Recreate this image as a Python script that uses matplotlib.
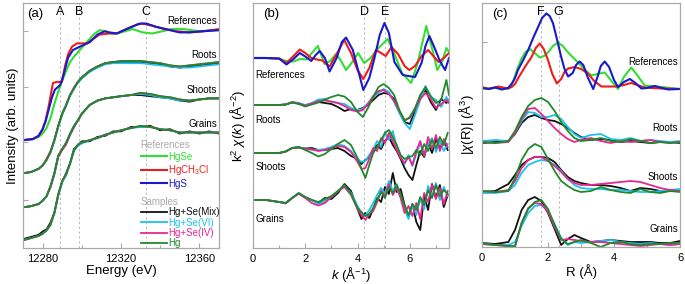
import matplotlib
matplotlib.use("Agg")
import matplotlib.pyplot as plt
from matplotlib.lines import Line2D

plt.rcParams['font.family'] = ['Liberation Sans', 'DejaVu Sans']
plt.rcParams['mathtext.fontset'] = 'custom'
plt.rcParams['mathtext.rm'] = 'Liberation Sans'
plt.rcParams['mathtext.it'] = 'Liberation Sans:italic'

# ---------------- colours ----------------
C_HGSE = '#33dd33'
C_HGCH = '#ee1c1c'
C_HGS = '#1a1acc'
C_MIX = '#111111'
C_VI = '#19c3f0'
C_IV = '#e8268e'
C_HG = '#1f8a2a'

# ---------------- panel (a): XANES ----------------
E_hgs = [12270, 12275, 12278, 12280, 12281.5, 12283, 12284.8, 12286.3, 12288.9, 12290.4, 12293, 12295.5,
         12299, 12304, 12308, 12311.7, 12314, 12317.8, 12322.8, 12329.5, 12333, 12338, 12343, 12349.8,
         12354.9, 12361.5, 12370]
mu_hgs = [0.0, 0.01, 0.04, 0.1, 0.17, 0.27, 0.39, 0.46, 0.5, 0.575, 0.75, 0.82, 0.85, 0.89, 0.96, 0.99,
          0.98, 0.97, 1.01, 1.06, 1.06, 1.03, 1.01, 0.98, 0.98, 0.99, 1.0]
E_hgch = [12270, 12275, 12278, 12280, 12281.5, 12283, 12285.3, 12287.4, 12289.9, 12291.4, 12293, 12295,
          12297.5, 12302.6, 12305, 12309, 12314, 12317.8, 12322.8, 12328, 12331, 12336, 12342, 12348,
          12355, 12362, 12370]
mu_hgch = [0.0, 0.01, 0.04, 0.1, 0.18, 0.3, 0.52, 0.53, 0.53, 0.67, 0.78, 0.85, 0.88, 0.88, 0.91, 0.96,
           0.97, 0.97, 1.01, 1.05, 1.06, 1.04, 1.01, 0.99, 0.98, 0.99, 1.01]
E_hgse = [12270, 12275, 12278, 12280, 12282, 12284, 12286, 12288, 12290, 12292, 12294, 12296, 12298,
          12300, 12303, 12306, 12309, 12312, 12315, 12318, 12322, 12326, 12331, 12336, 12341, 12346,
          12352, 12360, 12370]
mu_hgse = [0.0, 0.01, 0.03, 0.06, 0.11, 0.2, 0.33, 0.44, 0.54, 0.63, 0.71, 0.76, 0.8, 0.84, 0.9, 0.96,
           1.0, 0.99, 0.97, 0.97, 0.99, 1.01, 0.98, 0.97, 0.99, 1.01, 1.01, 0.99, 1.0]

E_s = [12270, 12274, 12278, 12280, 12282, 12284, 12286, 12288, 12290, 12292, 12294, 12296, 12298, 12300,
       12304, 12308, 12312, 12316, 12320, 12325, 12330, 12335, 12340, 12345, 12350, 12355, 12360, 12365, 12370]
roots_a_mix = [0.0, 0.01, 0.04, 0.07, 0.12, 0.19, 0.3, 0.43, 0.54, 0.62, 0.71, 0.77, 0.83, 0.87, 0.93, 0.97,
               1.0, 1.01, 1.01, 1.01, 1.01, 1.0, 0.99, 0.97, 0.96, 0.97, 0.98, 0.99, 1.0]
roots_a_vi = [0.0, 0.01, 0.04, 0.07, 0.12, 0.19, 0.29, 0.42, 0.53, 0.61, 0.7, 0.77, 0.82, 0.86, 0.92, 0.96,
              0.99, 1.0, 1.0, 1.0, 1.0, 0.99, 0.98, 0.97, 0.96, 0.96, 0.97, 0.98, 0.99]
roots_a_iv = [0.0, 0.01, 0.04, 0.07, 0.13, 0.2, 0.3, 0.43, 0.54, 0.62, 0.71, 0.78, 0.83, 0.87, 0.93, 0.97,
              1.0, 1.01, 1.02, 1.02, 1.02, 1.01, 1.0, 0.98, 0.97, 0.98, 0.99, 1.0, 1.01]
roots_a_hg = [0.0, 0.01, 0.04, 0.07, 0.12, 0.19, 0.3, 0.43, 0.54, 0.62, 0.71, 0.77, 0.83, 0.87, 0.93, 0.97,
              1.0, 1.01, 1.02, 1.02, 1.02, 1.01, 1.0, 0.98, 0.97, 0.98, 0.99, 1.0, 1.01]
shoots_a_mix = [0.0, 0.01, 0.03, 0.06, 0.1, 0.19, 0.31, 0.47, 0.53, 0.58, 0.66, 0.73, 0.79, 0.85, 0.93, 0.97,
                0.99, 1.0, 1.01, 1.02, 1.02, 1.01, 1.0, 0.99, 0.97, 0.96, 0.98, 0.99, 0.99]
shoots_a_vi = [0.0, 0.01, 0.03, 0.06, 0.1, 0.18, 0.3, 0.46, 0.53, 0.58, 0.67, 0.74, 0.79, 0.85, 0.93, 0.97,
               0.99, 1.0, 1.01, 1.02, 1.03, 1.02, 1.0, 0.99, 0.97, 0.97, 0.98, 0.99, 0.99]
shoots_a_iv = [0.0, 0.01, 0.03, 0.06, 0.1, 0.18, 0.3, 0.46, 0.52, 0.57, 0.66, 0.73, 0.79, 0.85, 0.93, 0.97,
               0.99, 1.0, 1.01, 1.02, 1.04, 1.03, 1.01, 1.0, 0.98, 0.97, 0.98, 0.99, 0.99]
shoots_a_hg = [0.0, 0.01, 0.03, 0.06, 0.1, 0.19, 0.31, 0.47, 0.53, 0.59, 0.67, 0.74, 0.79, 0.85, 0.93, 0.97,
               0.99, 1.0, 1.01, 1.02, 1.04, 1.03, 1.01, 1.0, 0.98, 0.97, 0.98, 0.99, 0.99]
grains_a_mix = [0.01, 0.03, 0.05, 0.08, 0.1, 0.16, 0.25, 0.41, 0.53, 0.61, 0.7, 0.83, 0.86, 0.9, 0.9, 0.94,
                0.95, 0.99, 0.99, 1.03, 1.03, 1.04, 1.0, 1.01, 0.97, 0.99, 0.97, 0.99, 0.97]
grains_a_vi = [0.0, 0.02, 0.04, 0.06, 0.09, 0.14, 0.24, 0.41, 0.53, 0.59, 0.69, 0.81, 0.86, 0.88, 0.91, 0.93,
               0.96, 0.98, 1.0, 1.02, 1.03, 1.03, 1.01, 1.0, 0.98, 0.98, 0.98, 0.98, 0.98]
grains_a_iv = [0.0, 0.02, 0.04, 0.06, 0.09, 0.14, 0.25, 0.42, 0.54, 0.6, 0.7, 0.82, 0.87, 0.89, 0.91, 0.93,
               0.96, 0.98, 1.0, 1.02, 1.04, 1.03, 1.01, 1.0, 0.98, 0.98, 0.98, 0.98, 0.98]
grains_a_hg = [0.0, 0.02, 0.04, 0.06, 0.09, 0.14, 0.25, 0.42, 0.54, 0.6, 0.7, 0.82, 0.87, 0.89, 0.91, 0.93,
               0.96, 0.98, 1.0, 1.02, 1.04, 1.03, 1.01, 1.0, 0.98, 0.98, 0.98, 0.98, 0.98]

# ---------------- panel (b): k^2 chi(k) ----------------
k_hgs = [0, 0.5, 1.0, 1.28, 1.55, 1.79, 2.0, 2.23, 2.4, 2.55, 2.75, 2.93, 3.2, 3.4, 3.56, 3.82, 4.0, 4.22,
         4.45, 4.64, 4.85, 5.03, 5.2, 5.41, 5.73, 5.95, 6.2, 6.45, 6.6, 6.75, 6.95, 7.15, 7.35, 7.5]
chi_hgs = [0, 0, -0.05, -0.65, -0.1, 0.5, 0.15, -0.3, 0.3, 0.7, 0.0, -1.35, 0.0, 1.6, 2.05, 0.8, -1.0, -3.2,
           -2.0, -0.1, 2.3, 3.5, 2.5, -0.4, -1.7, -1.8, -1.9, -0.5, 1.2, 2.2, 1.0, -0.3, -1.2, 0.0]
k_hgch = [0, 0.5, 1.0, 1.28, 1.55, 1.79, 2.0, 2.23, 2.45, 2.65, 2.93, 3.2, 3.49, 3.75, 4.0, 4.22, 4.45, 4.7,
          4.9, 5.08, 5.3, 5.55, 5.8, 5.98, 6.2, 6.45, 6.7, 6.9, 7.1, 7.3, 7.5]
chi_hgch = [0, 0, -0.05, -0.5, 0.2, 0.85, 0.5, 0.0, -0.15, -0.25, -0.85, 0.4, 1.8, 0.5, -1.2, -2.1, -1.0,
            0.8, 0.5, 0.2, 1.1, 0.4, -0.8, -1.2, -0.8, 0.2, 0.8, 0.2, -0.4, 0.0, 0.5]
k_hgse = [0, 0.5, 1.0, 1.3, 1.55, 1.8, 2.05, 2.25, 2.48, 2.74, 2.95, 3.18, 3.35, 3.56, 3.8, 4.02, 4.26, 4.5,
          4.8, 5.15, 5.4, 5.7, 6.05, 6.3, 6.63, 6.85, 7.05, 7.25, 7.4, 7.5]
chi_hgse = [0, 0, -0.1, -0.3, -0.35, -0.1, -0.15, 0.5, 1.2, -0.6, -0.3, 0.4, -0.2, -1.2, -0.4, 0.5, -0.5,
            0.0, 1.0, 1.9, 0.5, -1.5, -2.5, -0.5, 3.2, 1.0, -1.2, -0.3, 1.0, 0.6]

k_r = [0, 0.5, 1.0, 1.25, 1.5, 1.75, 2.0, 2.25, 2.5, 2.75, 3.0, 3.25, 3.5, 3.75, 4.0, 4.2, 4.4, 4.6, 4.8,
       5.0, 5.2, 5.4, 5.6, 5.8, 6.0, 6.2, 6.4, 6.6, 6.8, 7.0, 7.2, 7.4, 7.5]
roots_b_mix = [0, 0, 0, 0.05, 0.25, 0.15, -0.05, 0.15, 0.3, 0.2, 0.1, -0.2, -0.6, -0.4, -0.5, -0.3, 0.0,
               0.5, 1.0, 1.2, 1.1, 0.6, -0.7, -1.7, -1.9, -0.6, 0.9, 1.5, 0.3, -0.5, 0.6, 0.2, 0.5]
roots_b_vi = [0, 0, 0, 0.05, 0.3, 0.2, 0.0, 0.2, 0.55, 0.6, 0.3, 0.2, 0.1, -0.3, -0.5, -0.4, 0.2, 0.8, 1.2,
              1.6, 1.3, 0.3, -0.8, -1.8, -2.4, -1.0, 0.5, 1.9, 0.8, 0.5, -0.2, 0.8, 0.3]
roots_b_iv = [0, 0, 0, 0.05, 0.3, 0.15, -0.05, 0.15, 0.4, 0.45, 0.35, 0.2, -0.1, -0.5, -0.65, -0.5, 0.1,
              0.9, 1.4, 1.5, 1.1, 0.4, -0.6, -1.5, -1.3, -0.4, 0.6, 1.2, 0.6, -0.3, 0.1, 0.5, 0.2]
roots_b_hg = [0, 0, 0, 0.05, 0.25, 0.1, -0.15, 0.05, 0.25, 0.55, 0.8, 1.0, 0.85, 0.3, -0.7, -1.2, -0.3, 0.8,
              1.8, 2.1, 1.7, 1.0, -0.5, -1.6, -1.2, -0.3, 1.0, 1.8, 0.9, 0.2, 0.5, 2.5, 1.0]

k_n = [0, 0.5, 1.0, 1.25, 1.5, 1.75, 2.0, 2.25, 2.5, 2.75, 3.0, 3.25, 3.5, 3.75, 4.0, 4.15, 4.3, 4.45, 4.6,
       4.75, 4.9, 5.05, 5.2, 5.35, 5.5, 5.65, 5.8, 5.95, 6.1, 6.25, 6.4, 6.55, 6.7, 6.85, 7.0, 7.15, 7.3, 7.45]
shoots_b_mix = [0, 0, 0, 0.15, 0.5, 0.55, 0.45, 0.5, 0.3, 0.3, 0.4, 0.5, 0.2, -0.3, -0.6, -1.1, -0.7, -0.4,
                0.3, 0.8, 0.4, 1.2, 1.6, 0.8, 0.2, -0.6, -1.5, -2.2, -2.7, -1.2, 0.2, -0.4, 1.0, 0.0, 1.4,
                0.5, 1.2, 0.3]
shoots_b_vi = [0, 0, 0, 0.15, 0.5, 0.6, 0.4, 0.35, 0.3, 0.4, 0.6, 0.9, 0.7, 0.2, -0.6, -0.9, -0.8, -0.2,
               0.4, 1.2, 0.6, 2.1, 1.3, 2.2, 0.6, -0.3, -1.1, -0.2, -1.3, -0.1, 1.0, -0.2, 0.9, 1.5, 0.1,
               1.2, 0.2, 0.9]
shoots_b_iv = [0, 0, 0, 0.15, 0.5, 0.55, 0.4, 0.35, 0.2, 0.3, 0.5, 0.7, 0.6, 0.1, -0.9, -1.6, -1.5, -0.6,
               0.5, 0.2, 1.5, 1.0, 2.0, 1.2, 0.3, -0.5, -1.0, -0.4, -1.2, 0.2, 1.2, -0.3, 1.6, 0.4, 1.8, 0.2,
               1.4, 0.6]
shoots_b_hg = [0, 0, 0, 0.15, 0.5, 0.6, 0.3, 0.0, -0.35, -0.1, 0.4, 0.9, 1.3, 0.8, -0.5, -1.6, -2.5, -1.2,
               0.0, 0.6, 1.3, 2.0, 2.3, 1.6, 0.8, -0.2, -0.6, -0.4, -0.3, 0.3, -0.2, 0.9, 0.2, 1.3, 0.5, 1.6,
               0.8, 2.0]
grains_b_mix = [0, 0, -0.2, -0.3, 0.2, 0.65, 0.25, 0.0, -0.3, 0.2, 0.1, 0.7, 1.6, 0.9, -0.9, -1.9, -1.3,
                -1.8, -0.9, 0.2, -0.2, 1.3, 0.6, 2.7, 0.8, 1.1, -0.5, -1.7, -0.4, -2.2, -3.0, 0.4, -1.0, 1.6,
                0.2, 1.5, -0.7, 0.5]
grains_b_vi = [0, 0, -0.2, -0.3, 0.2, 0.7, 0.3, 0.0, -0.4, -0.1, 0.3, 0.9, 1.4, 0.7, -0.6, -1.3, -1.6,
               -1.0, -0.3, 0.5, 1.2, 0.6, 1.9, 0.9, 1.6, 0.3, -0.9, -1.9, -0.5, -1.5, 0.1, -0.9, 1.4, 0.3,
               1.7, 0.0, 1.3, 0.4]
grains_b_iv = [0, 0, -0.2, -0.35, 0.2, 0.65, 0.2, -0.3, -0.55, -0.3, 0.3, 0.9, 1.3, 0.5, -0.9, -1.5, -2.0,
               -1.4, -1.1, -0.2, 0.9, 0.4, 1.6, 0.5, 1.2, 0.2, -1.3, -0.6, -1.6, -0.3, -1.9, 0.7, -0.2, 1.5,
               0.1, 1.2, -0.4, 0.9]
grains_b_hg = [0, 0, -0.2, -0.3, 0.2, 0.7, 0.3, 0.0, -0.2, 0.1, 0.4, 0.9, 1.5, 0.6, -0.8, -1.2, -1.6, -1.4,
               -0.8, 0.0, 0.8, 0.2, 1.3, 0.7, 1.5, 0.6, -0.6, -1.5, -0.4, -1.0, 0.3, -0.5, 1.0, 0.2, 1.5,
               0.4, 1.0, 0.6]

# ---------------- panel (c): |chi(R)| ----------------
R_hgs = [0, 0.2, 0.4, 0.6, 0.79, 0.9, 1.0, 1.09, 1.25, 1.4, 1.55, 1.7, 1.82, 1.95, 2.05, 2.15, 2.27, 2.4,
         2.5, 2.61, 2.75, 2.85, 2.96, 3.07, 3.2, 3.37, 3.5, 3.6, 3.72, 3.85, 4.0, 4.12, 4.3, 4.48, 4.65,
         4.83, 5.0, 5.23, 5.4, 5.64, 6.0]
ft_hgs = [0.1, 0.0, 0.15, -0.05, 0.1, 0.5, 1.1, 1.9, 2.9, 3.9, 5.1, 6.2, 7.1, 7.55, 7.3, 6.6, 5.0, 3.2, 2.0,
          1.25, 1.6, 2.4, 2.75, 2.4, 1.2, 0.0, 1.2, 2.3, 2.75, 2.2, 0.9, 0.2, 0.7, 1.0, 0.6, 0.05, 0.1, 0.3,
          0.15, -0.05, 0.0]
R_hgch = [0, 0.2, 0.49, 0.79, 0.9, 1.0, 1.09, 1.3, 1.5, 1.63, 1.75, 1.87, 2.0, 2.13, 2.27, 2.4, 2.5, 2.61,
          2.81, 3.0, 3.21, 3.4, 3.62, 4.12, 4.35, 4.52, 4.7, 4.93, 5.43, 6.0]
ft_hgch = [0.2, 0.0, 0.25, 0.05, 0.2, 0.5, 1.05, 2.2, 3.2, 4.1, 4.55, 4.0, 2.9, 1.5, 0.55, 1.0, 1.7, 2.05,
           2.2, 2.0, 1.55, 0.8, 0.25, 0.25, 0.45, 0.6, 0.4, 0.15, 0.05, 0.0]
R_hgse = [0, 0.4, 0.8, 0.95, 1.07, 1.19, 1.32, 1.45, 1.6, 1.75, 1.88, 2.0, 2.15, 2.3, 2.45, 2.61, 2.91, 3.1,
          3.31, 3.5, 3.72, 3.9, 4.12, 4.3, 4.52, 4.7, 4.93, 5.43, 6.0]
ft_hgse = [0.05, 0.1, 0.05, 0.8, 2.0, 3.0, 3.7, 4.0, 3.6, 3.15, 3.3, 3.65, 4.3, 4.65, 4.3, 3.65, 2.65, 2.0,
           1.35, 1.5, 1.65, 0.9, 0.0, 1.2, 2.15, 1.4, 0.35, 0.2, 0.0]

R_s = [0, 0.4, 0.8, 1.0, 1.2, 1.4, 1.6, 1.8, 2.0, 2.2, 2.4, 2.6, 2.8, 3.0, 3.3, 3.6, 3.9, 4.2, 4.5, 4.8,
       5.1, 5.4, 5.7, 6.0]
roots_c_mix = [0.0, 0.1, 0.2, 0.9, 2.0, 2.6, 2.8, 2.5, 2.3, 2.2, 1.9, 1.5, 1.0, 0.6, 0.3, 0.4, 0.3, 0.1,
               0.2, 0.1, 0.0, 0.1, 0.1, 0.0]
roots_c_vi = [0.2, 0.3, 0.2, 1.0, 2.2, 3.1, 3.0, 2.6, 2.6, 2.8, 2.4, 1.6, 0.9, 0.5, 0.8, 0.9, 0.4, 0.3,
              0.5, 0.2, 0.3, 0.2, 0.1, 0.2]
roots_c_iv = [0.1, 0.0, 0.1, 1.0, 2.4, 3.4, 3.5, 2.9, 2.2, 1.5, 0.9, 0.4, 0.1, 0.3, 0.5, 0.2, 0.0, 0.2,
              0.1, 0.2, 0.3, 0.1, 0.0, 0.1]
roots_c_hg = [0.1, 0.0, 0.2, 1.2, 2.6, 3.7, 4.3, 4.5, 4.1, 3.2, 2.1, 1.2, 0.5, 0.2, 0.3, 0.5, 0.2, 0.1,
              0.4, 0.2, 0.0, 0.1, 0.0, 0.1]
shoots_c_mix = [0.1, 0.2, 0.9, 1.8, 2.8, 3.3, 3.6, 3.6, 3.5, 3.1, 2.3, 1.6, 1.2, 1.0, 0.8, 0.8, 0.7, 0.5,
                0.2, 0.5, 0.4, 0.2, 0.2, 0.2]
shoots_c_vi = [0.0, 0.0, 0.2, 0.8, 2.0, 2.8, 3.1, 3.3, 3.2, 2.8, 2.2, 1.4, 0.8, 0.5, 0.4, 0.4, 0.3, 0.3,
               0.2, 0.1, 0.1, 0.2, 0.3, 0.4]
shoots_c_iv = [0.2, 0.1, 0.3, 1.2, 2.5, 3.3, 3.6, 3.6, 3.2, 2.7, 2.1, 1.4, 1.0, 0.8, 0.8, 0.9, 1.0, 1.1,
               1.2, 1.1, 0.8, 0.5, 0.3, 0.2]
shoots_c_hg = [0.2, 0.1, 0.2, 1.5, 3.3, 4.4, 4.9, 4.6, 3.4, 2.2, 1.2, 0.7, 0.3, 0.1, 0.2, 0.6, 0.3, 0.1,
               0.0, 0.4, 0.1, 0.0, 0.2, 0.1]
grains_c_mix = [0.2, 0.1, 0.3, 1.5, 3.5, 4.5, 4.8, 4.4, 3.2, 1.6, 0.0, 0.6, 1.0, 0.7, 0.3, 0.4, 0.5, 0.4,
                0.3, 0.3, 0.3, 0.2, 0.2, 0.4]
grains_c_vi = [0.1, 0.0, 0.0, 0.3, 1.9, 3.2, 3.9, 4.0, 3.4, 2.1, 0.7, 0.0, 0.3, 0.2, 0.3, 0.4, 0.5, 0.3,
               0.2, 0.1, 0.2, 0.1, 0.0, 0.1]
grains_c_iv = [0.1, 0.0, -0.1, -0.2, 2.2, 3.7, 4.2, 4.1, 3.3, 1.8, 0.5, 0.6, 0.5, 0.4, 0.3, 0.3, 0.2, 0.1,
               0.0, -0.1, 0.0, 0.1, 0.0, 0.1]
grains_c_hg = [0.2, 0.0, -0.1, -0.1, 2.2, 3.6, 4.3, 4.5, 3.6, 2.0, 0.6, 0.1, 0.3, 0.5, 0.2, -0.2, 0.2, 0.3,
               0.1, 0.0, 0.1, 0.1, 0.2, 0.2]

# ---------------- figure ----------------
fig = plt.figure(figsize=(6.85, 2.84), dpi=100)
W, H = 685.0, 284.0
axA = fig.add_axes([23 / W, 1 - 248 / H, 196 / W, 245 / H])
axB = fig.add_axes([253 / W, 1 - 248 / H, 196 / W, 245 / H])
axC = fig.add_axes([482 / W, 1 - 247 / H, 198 / W, 244 / H])

SPINE = '#aaaaaa'
for ax in (axA, axB, axC):
    for s in ax.spines.values():
        s.set_color(SPINE)
        s.set_linewidth(0.9)
    ax.tick_params(which='both', direction='in', color=SPINE, labelsize=8, pad=4)
    ax.tick_params(which='major', length=3.5, width=0.8)
    ax.tick_params(which='minor', length=2.5, width=0.8)
    ax.tick_params(axis='y', labelleft=False)

LW_R = 1.5
LW_S = 1.3
DASH = dict(color='#bbbbbb', lw=0.7, ls=(0, (2.5, 2.5)), zorder=0)

# ---- (a)
off_a = {'ref': 0.98, 'roots': 0.68, 'shoots': 0.37, 'grains': 0.07}
for x in (12288.8, 12298.5, 12332.5):
    axA.axvline(x, **DASH)
axA.plot(E_hgse, [v + off_a['ref'] for v in mu_hgse], color=C_HGSE, lw=LW_R)
axA.plot(E_hgch, [v + off_a['ref'] for v in mu_hgch], color=C_HGCH, lw=LW_R)
axA.plot(E_hgs, [v + off_a['ref'] for v in mu_hgs], color=C_HGS, lw=LW_R)
for key, series in (('roots', (roots_a_mix, roots_a_vi, roots_a_iv, roots_a_hg)),
                    ('shoots', (shoots_a_mix, shoots_a_vi, shoots_a_iv, shoots_a_hg)),
                    ('grains', (grains_a_mix, grains_a_vi, grains_a_iv, grains_a_hg))):
    for ser, col in zip(series, (C_MIX, C_VI, C_IV, C_HG)):
        axA.plot(E_s, [v + off_a[key] for v in ser], color=col, lw=LW_S)
axA.set_xlim(12270, 12370)
axA.set_ylim(0, 2.227)
axA.set_xticks([12280, 12320, 12360])
axA.set_xticks([12300, 12340], minor=True)
axA.set_yticks([0.436, 0.964, 1.464, 1.973])
axA.set_xlabel('Energy (eV)', fontsize=9.5, labelpad=1)
axA.set_ylabel('Intensity (arb. units)', fontsize=9.5, labelpad=3)
axA.text(0.02, 0.955, '(a)', transform=axA.transAxes, fontsize=9.5, va='center')
for lab, x in (('A', 12288.8), ('B', 12298.5), ('C', 12332.5)):
    axA.text(x, 0.965, lab, transform=axA.get_xaxis_transform(), fontsize=9, ha='center', va='center')
for lab, y in (('References', 0.927), ('Roots', 0.788), ('Shoots', 0.645), ('Grains', 0.506)):
    axA.text(0.99, y, lab, transform=axA.transAxes, fontsize=7, ha='right', va='center')

ref_handles = [Line2D([], [], color=c, lw=LW_R) for c in (C_HGSE, C_HGCH, C_HGS)]
leg1 = axA.legend(ref_handles, ['HgSe', 'HgCH$_3$Cl', 'HgS'], title='References', loc='upper left',
                  bbox_to_anchor=(0.6, 0.44), frameon=False, fontsize=7, title_fontsize=7,
                  handlelength=2.7, handletextpad=0.1, labelspacing=0.15, borderpad=0, borderaxespad=0,
                  alignment='left', labelcolor=[C_HGSE, C_HGCH, C_HGS])
leg1.get_title().set_color('#aaaaaa')
axA.add_artist(leg1)
smp_handles = [Line2D([], [], color=c, lw=LW_S) for c in (C_MIX, C_VI, C_IV, C_HG)]
leg2 = axA.legend(smp_handles, ['Hg+Se(Mix)', 'Hg+Se(VI)', 'Hg+Se(IV)', 'Hg'], title='Samples',
                  loc='upper left', bbox_to_anchor=(0.6, 0.21), frameon=False, fontsize=7, title_fontsize=7,
                  handlelength=2.7, handletextpad=0.1, labelspacing=0.05, borderpad=0, borderaxespad=0,
                  alignment='left', labelcolor=[C_MIX, C_VI, C_IV, C_HG])
leg2.get_title().set_color('#aaaaaa')

# ---- (b)
off_b = {'ref': 19.0, 'roots': 14.3, 'shoots': 9.5, 'grains': 4.8}
for x in (4.25, 5.07):
    axB.axvline(x, **DASH)
axB.plot(k_hgse, [v + off_b['ref'] for v in chi_hgse], color=C_HGSE, lw=LW_R)
axB.plot(k_hgch, [v + off_b['ref'] for v in chi_hgch], color=C_HGCH, lw=LW_R)
axB.plot(k_hgs, [v + off_b['ref'] for v in chi_hgs], color=C_HGS, lw=LW_R)
for key, kk, series in (('roots', k_r, (roots_b_mix, roots_b_vi, roots_b_iv, roots_b_hg)),
                        ('shoots', k_n, (shoots_b_mix, shoots_b_vi, shoots_b_iv, shoots_b_hg)),
                        ('grains', k_n, (grains_b_mix, grains_b_vi, grains_b_iv, grains_b_hg))):
    for ser, col in zip(series, (C_MIX, C_VI, C_IV, C_HG)):
        axB.plot(kk, [v + off_b[key] for v in ser], color=col, lw=LW_S)
axB.set_xlim(0, 7.5)
axB.set_ylim(0, 24.5)
axB.set_xticks([0, 2, 4, 6])
axB.set_xticks([1, 3, 5, 7], minor=True)
axB.set_yticks([])
axB.set_xlabel('$k$ (Å$^{-1}$)', fontsize=9.5, labelpad=1)
axB.set_ylabel('k$^2$ $\\chi(k)$ (Å$^{-2}$)', fontsize=9.5, labelpad=4)
axB.text(0.05, 0.955, '(b)', transform=axB.transAxes, fontsize=9.5, va='center')
for lab, x in (('D', 4.25), ('E', 5.07)):
    axB.text(x, 0.965, lab, transform=axB.get_xaxis_transform(), fontsize=9, ha='center', va='center')
for lab, y in (('References', 0.706), ('Roots', 0.522), ('Shoots', 0.33), ('Grains', 0.118)):
    axB.text(0.012, y, lab, transform=axB.transAxes, fontsize=7, ha='left', va='center')

# ---- (c)
off_c = {'ref': 15.8, 'roots': 10.4, 'shoots': 5.4, 'grains': 0.2}
for x in (1.78, 2.32):
    axC.axvline(x, **DASH)
axC.plot(R_hgse, [v + off_c['ref'] for v in ft_hgse], color=C_HGSE, lw=LW_R)
axC.plot(R_hgch, [v + off_c['ref'] for v in ft_hgch], color=C_HGCH, lw=LW_R)
axC.plot(R_hgs, [v + off_c['ref'] for v in ft_hgs], color=C_HGS, lw=LW_R)
for key, series in (('roots', (roots_c_mix, roots_c_vi, roots_c_iv, roots_c_hg)),
                    ('shoots', (shoots_c_mix, shoots_c_vi, shoots_c_iv, shoots_c_hg)),
                    ('grains', (grains_c_mix, grains_c_vi, grains_c_iv, grains_c_hg))):
    for ser, col in zip(series, (C_MIX, C_VI, C_IV, C_HG)):
        axC.plot(R_s, [v + off_c[key] for v in ser], color=col, lw=LW_S)
axC.set_xlim(0, 6)
axC.set_ylim(0, 24.4)
axC.set_xticks([0, 2, 4, 6])
axC.set_xticks([1, 3, 5], minor=True)
axC.set_yticks([20.5])
axC.set_xlabel('R (Å)', fontsize=9.5, labelpad=1)
axC.set_ylabel('|$\\chi$(R)| (Å$^3$)', fontsize=9.5, labelpad=4)
axC.text(0.05, 0.955, '(c)', transform=axC.transAxes, fontsize=9.5, va='center')
for lab, x in (('F', 1.78), ('G', 2.32)):
    axC.text(x, 0.965, lab, transform=axC.get_xaxis_transform(), fontsize=9, ha='center', va='center')
for lab, y in (('References', 0.758), ('Roots', 0.488), ('Shoots', 0.287), ('Grains', 0.074)):
    axC.text(0.99, y, lab, transform=axC.transAxes, fontsize=7, ha='right', va='center')

fig.savefig('out.png', dpi=100)
